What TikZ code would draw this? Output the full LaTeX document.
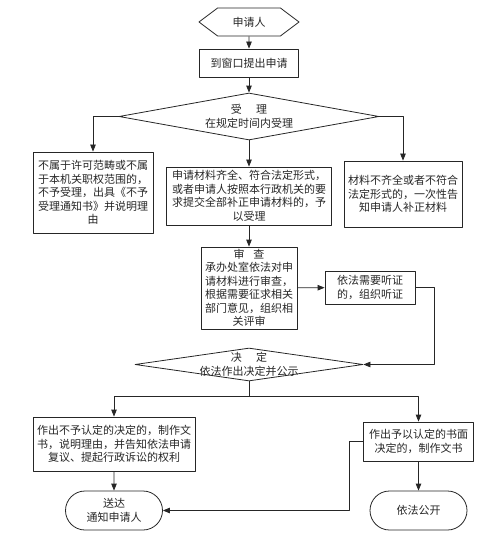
\documentclass[tikz,border=0pt]{standalone}
\usepackage{fontspec}
\newfontfamily\cjk{Noto Sans CJK SC}
\usetikzlibrary{shapes.geometric,shapes.misc,shapes.symbols,arrows.meta}
\begin{document}
\begin{tikzpicture}[x=1pt, y=-1pt, line join=round, line width=.8pt, color=black!85,
		>={Triangle[length=7pt,width=5.5pt]},
		font=\cjk\fontsize{11}{13.5}\selectfont,
		every node/.style={align=center, inner sep=0pt},
		box/.style 2 args={draw, rectangle, minimum width=#1, minimum height=#2},
		decision/.style 2 args={draw, diamond, minimum width=#1, minimum height=#2},
		terminal/.style={draw, rounded rectangle, minimum width=97, minimum height=39},
		startnode/.style={draw, signal, signal to=west and east, signal pointer angle=74, minimum width=100, minimum height=28}]
	\useasboundingbox (0,0) rectangle (500,556);
	% top part
	\node[startnode] (start) at (249,22) {申请人};
	\node[box={99}{28}] (apply) at (249,63) {到窗口提出申请};
	\node[decision={260}{47}, label={center:{受\hspace{1.3em}理\\在规定时间内受理}}] (accept) at (249,116.5) {};
	\node[box={120}{81}] (reject) at (93,192.5) {不属于许可范畴或不属\\于本机关职权范围的，\\不予受理，出具《不予\\受理通知书》并说明理\\由};
	\node[box={165}{58}] (admit) at (249,196) {申请材料齐全、符合法定形式，\\或者申请人按照本行政机关的要\\求提交全部补正申请材料的，予\\以受理};
	\node[box={118}{66}] (supply) at (403,194) {材料不齐全或者不符合\\法定形式的，一次性告\\知申请人补正材料};
	% review
	\node[box={96}{82}] (review) at (249,288) {审\hspace{.8em}查\\承办处室依法对申\\请材料进行审查，\\根据需要征求相关\\部门意见，组织相\\关评审};
	\node[box={90}{33}] (hearing) at (370,287.5) {依法需要听证\\的，组织听证};
	\node[decision={228}{33}, label={center:{决\hspace{1.3em}定\\依法作出决定并公示}}] (decide) at (249,364.5) {};
	\coordinate (split) at (249,396);
	% bottom part
	\node[box={162}{54}] (deny) at (114,444) {作出不予认定的决定的，制作文\\书，说明理由，并告知依法申请\\复议、提起行政诉讼的权利};
	\node[box={110}{39}] (grant) at (418.5,441.5) {作出予以认定的书面\\决定的，制作文书};
	\node[terminal] (notify) at (114,510.5) {送达\\通知申请人};
	\node[terminal] (publish) at (418.5,510.5) {依法公开};
	% connectors
	\draw[->] (start) -- (apply);
	\draw[->] (apply) -- (accept);
	\draw[->] (accept.west) -| (reject.north);
	\draw[->] (accept.east) -| (supply.north);
	\draw[->] (accept.south) -- (admit.north);
	\draw[->] (admit) -- (review);
	\draw[->] (review) -- (hearing);
	\draw[->] (hearing.east) -- ++(19,0) |- (decide.east);
	\draw (decide.south) -- (split);
	\draw[->] (split) -| (deny.north);
	\draw[->] (split) -| (grant.north);
	\draw[->] (deny) -- (notify);
	\draw[->] (grant.west) -- ++(-14,0) |- (notify.east);
	\draw[->] (grant) -- (publish);
\end{tikzpicture}
\end{document}
